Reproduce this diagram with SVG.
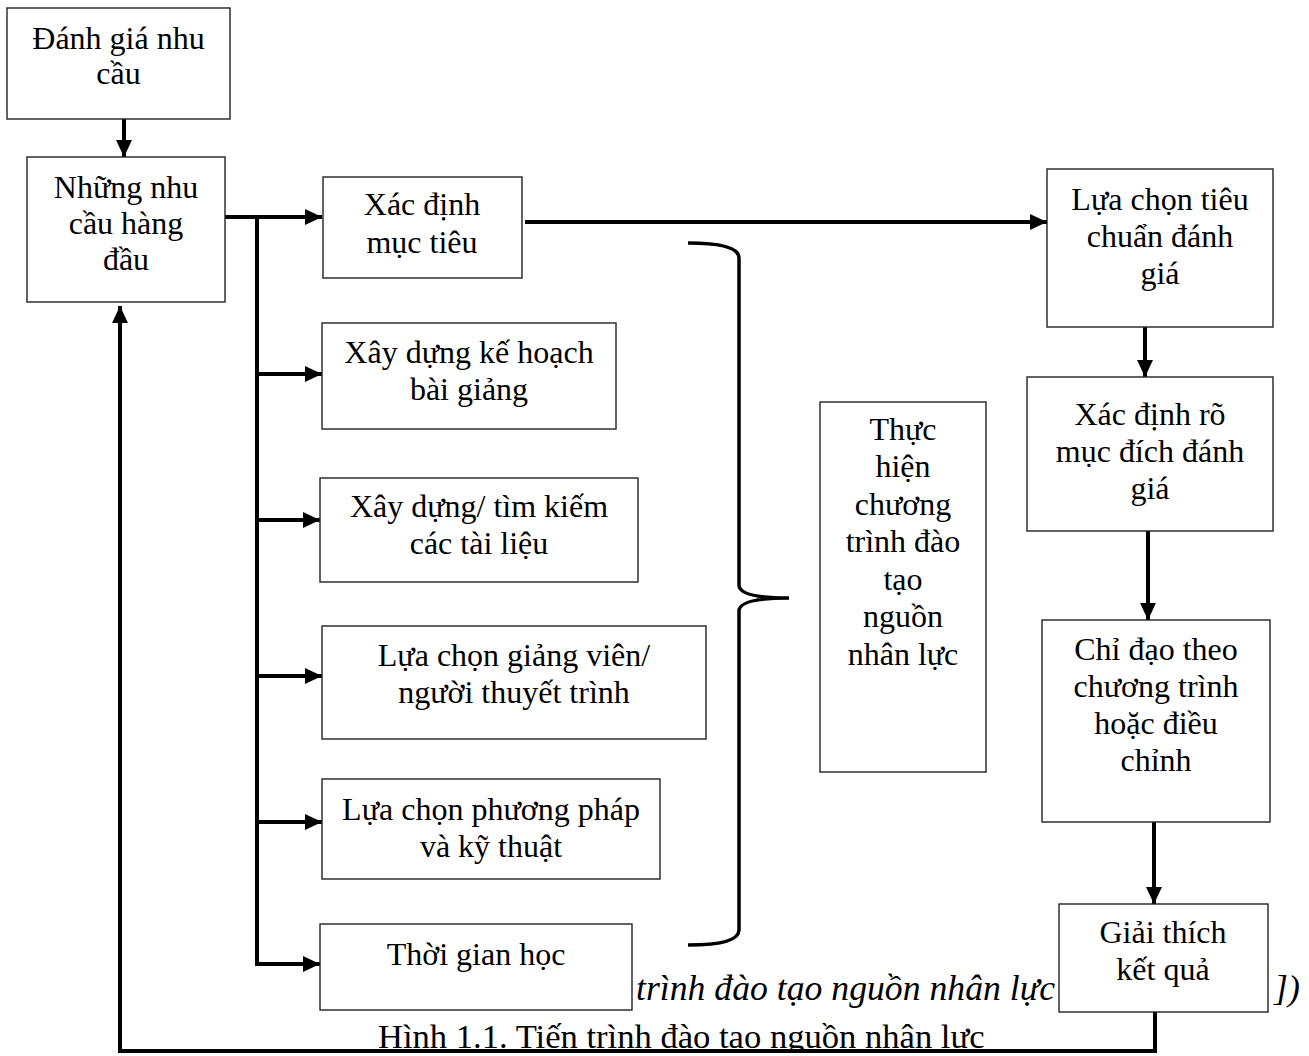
<svg xmlns="http://www.w3.org/2000/svg" width="1309" height="1056" viewBox="0 0 1309 1056">
<style>
.box{fill:#fff;stroke:#222;stroke-width:1.4}
.t{font-family:"Liberation Serif","Times New Roman",serif;font-size:32px;fill:#000;text-anchor:middle}
.c{fill:none;stroke:#000;stroke-width:4}
.it{font-family:"Liberation Serif","Times New Roman",serif;font-size:35.7px;font-style:italic;fill:#000}
.cap{font-family:"Liberation Serif","Times New Roman",serif;font-size:34.6px;fill:#000}
</style>
<defs>
<marker id="ah" markerUnits="userSpaceOnUse" markerWidth="17" markerHeight="16" refX="17" refY="8" orient="auto">
<path d="M0,0 L17,8 L0,16 z" fill="#000"/>
</marker>
</defs>
<rect width="1309" height="1056" fill="#fff"/>
<g id="notes">
<text class="it" x="1055" y="1000" text-anchor="end">n trình đào tạo nguồn nhân lực</text>
<text class="it" x="1274" y="1000">])</text>
<text class="cap" x="378" y="1048">Hình 1.1. Tiến trình đào tạo nguồn nhân lực</text>
<rect x="0" y="1053" width="1309" height="3" fill="#fff"/>
</g>
<g id="connectors">
<line class="c" x1="124" y1="119" x2="124" y2="157" marker-end="url(#ah)"/>
<line class="c" x1="225" y1="217" x2="322" y2="217" marker-end="url(#ah)"/>
<line class="c" x1="257" y1="215" x2="257" y2="966"/>
<line class="c" x1="255" y1="374" x2="322" y2="374" marker-end="url(#ah)"/>
<line class="c" x1="255" y1="520" x2="320" y2="520" marker-end="url(#ah)"/>
<line class="c" x1="255" y1="676" x2="322" y2="676" marker-end="url(#ah)"/>
<line class="c" x1="255" y1="822" x2="322" y2="822" marker-end="url(#ah)"/>
<line class="c" x1="255" y1="964" x2="320" y2="964" marker-end="url(#ah)"/>
<line class="c" x1="525" y1="222" x2="1047" y2="222" marker-end="url(#ah)"/>
<line class="c" x1="1145" y1="327" x2="1145" y2="377" marker-end="url(#ah)"/>
<line class="c" x1="1148" y1="531" x2="1148" y2="620" marker-end="url(#ah)"/>
<line class="c" x1="1154" y1="822" x2="1154" y2="904" marker-end="url(#ah)"/>
<polyline class="c" points="1155,1012 1155,1051 120,1051 120,306" marker-end="url(#ah)"/>
<path d="M688,243 Q739,243 739,258 L739,585 Q739,598 789,598 Q739,598 739,611 L739,930 Q739,945 688,945" fill="none" stroke="#000" stroke-width="3.5"/>
</g>
<g id="n1"><rect class="box" x="7" y="8" width="223" height="111"/>
<text class="t" x="118.5" y="49">Đánh giá nhu</text><text class="t" x="118.5" y="84">cầu</text></g>
<g id="n2"><rect class="box" x="27" y="157" width="198" height="145"/>
<text class="t" x="126" y="198">Những nhu</text><text class="t" x="126" y="234">cầu hàng</text><text class="t" x="126" y="270">đầu</text></g>
<g id="n3"><rect class="box" x="323" y="177" width="199" height="101"/>
<text class="t" x="422" y="215">Xác định</text><text class="t" x="422" y="253">mục tiêu</text></g>
<g id="n4"><rect class="box" x="322" y="323" width="294" height="106"/>
<text class="t" x="469" y="363">Xây dựng kế hoạch</text><text class="t" x="469" y="400">bài giảng</text></g>
<g id="n5"><rect class="box" x="320" y="478" width="318" height="104"/>
<text class="t" x="479" y="517">Xây dựng/ tìm kiếm</text><text class="t" x="479" y="554">các tài liệu</text></g>
<g id="n6"><rect class="box" x="322" y="626" width="384" height="113"/>
<text class="t" x="514" y="666">Lựa chọn giảng viên/</text><text class="t" x="514" y="703">người thuyết trình</text></g>
<g id="n7"><rect class="box" x="322" y="779" width="338" height="100"/>
<text class="t" x="491" y="820">Lựa chọn phương pháp</text><text class="t" x="491" y="857">và kỹ thuật</text></g>
<g id="n8"><rect class="box" x="320" y="924" width="312" height="86"/>
<text class="t" x="476" y="965">Thời gian học</text></g>
<g id="n9"><rect class="box" x="820" y="402" width="166" height="370"/>
<text class="t" x="903" y="440">Thực</text><text class="t" x="903" y="477">hiện</text><text class="t" x="903" y="515">chương</text><text class="t" x="903" y="552">trình đào</text><text class="t" x="903" y="590">tạo</text><text class="t" x="903" y="627">nguồn</text><text class="t" x="903" y="665">nhân lực</text></g>
<g id="n10"><rect class="box" x="1047" y="169" width="226" height="158"/>
<text class="t" x="1160" y="210">Lựa chọn tiêu</text><text class="t" x="1160" y="247">chuẩn đánh</text><text class="t" x="1160" y="284">giá</text></g>
<g id="n11"><rect class="box" x="1027" y="377" width="246" height="154"/>
<text class="t" x="1150" y="425">Xác định rõ</text><text class="t" x="1150" y="462">mục đích đánh</text><text class="t" x="1150" y="499">giá</text></g>
<g id="n12"><rect class="box" x="1042" y="620" width="228" height="202"/>
<text class="t" x="1156" y="660">Chỉ đạo theo</text><text class="t" x="1156" y="697">chương trình</text><text class="t" x="1156" y="734">hoặc điều</text><text class="t" x="1156" y="771">chỉnh</text></g>
<g id="n13"><rect class="box" x="1059" y="904" width="209" height="108"/>
<text class="t" x="1163" y="943">Giải thích</text><text class="t" x="1163" y="980">kết quả</text></g>
</svg>
